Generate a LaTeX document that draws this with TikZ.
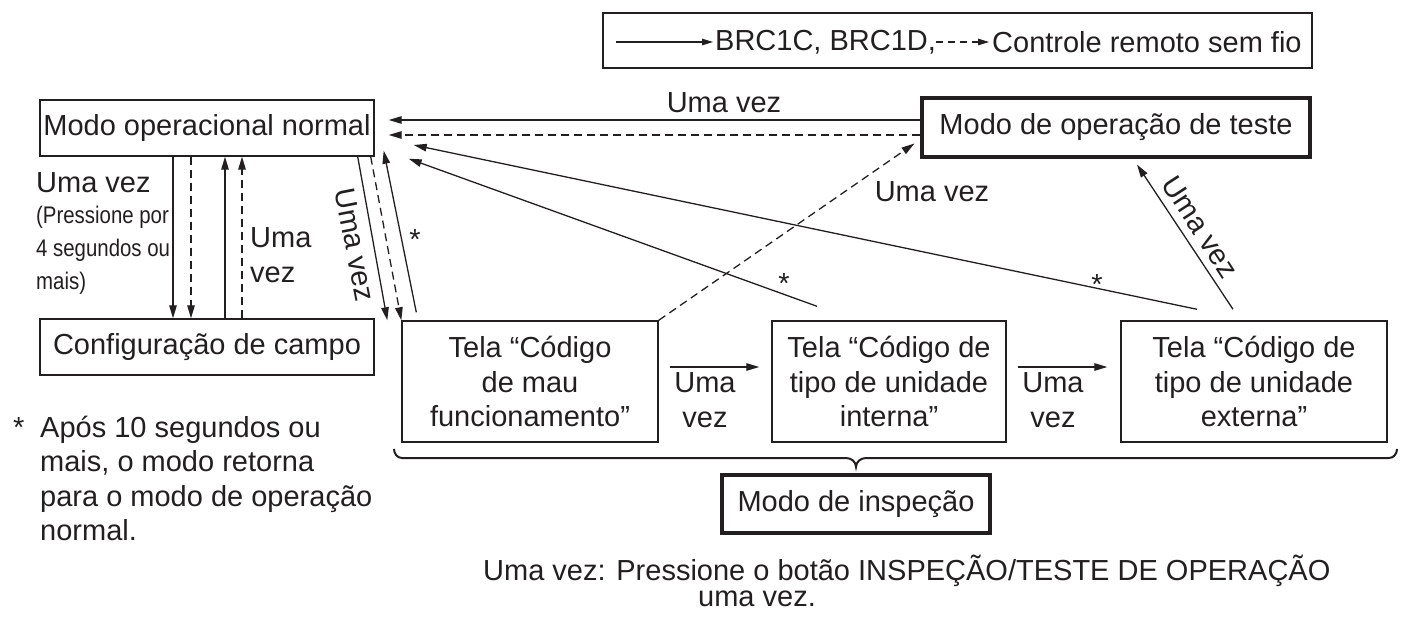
\documentclass[tikz,border=0pt]{standalone}
\usepackage{fontspec}
\setmainfont{Liberation Sans}
\newfontfamily\narrowfont[FakeStretch=0.85]{Liberation Sans}
\usepackage{tikz}
\usetikzlibrary{positioning, arrows.meta}
\definecolor{ink}{RGB}{35,31,32}

\begin{document}
\begin{tikzpicture}[x=1pt,y=-1pt,
  every node/.style={text=ink, font=\fontsize{29}{34.5}\selectfont},
  modebox/.style={draw=ink, line width=1.4pt, minimum width=334pt, minimum height=56pt, inner sep=0pt},
  boldbox/.style={draw=ink, line width=3.2pt, inner sep=0pt},
  screen/.style={draw=ink, line width=1.4pt, minimum height=121pt, align=center, inner sep=0pt},
  lbl/.style={inner sep=0pt, align=left},
  arr/.style={-{Triangle[length=13pt,width=7.5pt]}, line width=1.3pt, draw=ink},
  darr/.style={arr, dash pattern=on 8pt off 5pt}]

  \useasboundingbox (0,0) rectangle (1402,618);

  %% Legend
  \node[draw=ink, line width=1.4pt, minimum width=709pt, minimum height=55pt] (legend) at (957.5,40.5) {};
  \coordinate (lsolid) at (616,42);
  \node[lbl, anchor=west] (brc) at (715,42) {BRC1C, BRC1D,};
  \node[lbl, anchor=west] (wireless) at (992,42) {Controle remoto sem fio};
  \draw[arr, -{Triangle[length=11pt,width=6.5pt]}] (lsolid) -- ([xshift=-2pt]brc.west);
  \draw[darr, dash pattern=on 7pt off 5pt, -{Triangle[length=11pt,width=6.5pt]}] (brc.east) -- ([xshift=-3pt]wireless.west);

  %% Modes
  \node[modebox] (normal) at (207,128) {Modo operacional normal};
  \node[modebox] (campo) at (207,347) {Configuração de campo};
  \node[boldbox, minimum width=388pt, minimum height=59pt] (teste) at (1116,127.5) {Modo de operação de teste};

  %% Screens
  \node[screen, minimum width=256pt] (mau) at (530,381.5) {Tela “Código\\de mau\\funcionamento”};
  \node[screen, minimum width=234pt] (interna) at (889,381.5) {Tela “Código de\\tipo de unidade\\interna”};
  \node[screen, minimum width=266pt] (externa) at (1254,381.5) {Tela “Código de\\tipo de unidade\\externa”};
  \node[boldbox, minimum width=268pt, minimum height=58pt] (inspecao) at (856,504) {Modo de inspeção};

  %% Brace
  \draw[ink, line width=2pt] (394,449) to[out=-90,in=180] (402,458) -- (846,458)
    to[out=0,in=90] (inspecao.north |- 0,467) to[out=90,in=180] (866,458) -- (1389,458)
    to[out=0,in=-90] (1397,449);

  %% Normal <-> campo
  \draw[arr] ([xshift=-34pt]normal.south) -- ([xshift=-34pt]campo.north);
  \draw[darr] ([xshift=-16pt]normal.south) -- ([xshift=-16pt]campo.north);
  \draw[arr] ([xshift=18pt]campo.north) -- ([xshift=18pt]normal.south);
  \draw[darr] ([xshift=35pt]campo.north) -- ([xshift=35pt]normal.south);
  \node[lbl, anchor=west] (l1) at (36,183) {Uma vez};
  \node[lbl, anchor=west, font=\narrowfont\fontsize{24}{33}\selectfont] (l2) at (36,250) {(Pressione por\\4 segundos ou\\mais)};
  \node[lbl, anchor=west] (l3) at (250,255) {Uma\\vez};

  %% Normal <-> mau
  \draw[arr] ([xshift=-17pt]normal.south east) -- ([xshift=-14pt]mau.north west);
  \draw[darr] ([xshift=-4pt]normal.south east) -- (mau.north west);
  \draw[arr] ([xshift=15pt,yshift=8pt]mau.north west) -- ([xshift=9pt,yshift=6pt]normal.south east);
  \node[lbl, rotate=-79] (l4) at (355,245) {Uma vez};
  \node[lbl] (s1) at (415,240) {*};

  %% Teste -> normal
  \draw[arr] ([yshift=7.5pt]teste.west) -- ([xshift=14pt,yshift=8pt]normal.east);
  \draw[darr] ([yshift=-7.5pt]teste.west) -- ([xshift=14pt,yshift=-7pt]normal.east);
  \node[lbl] (l5) at (724,103) {Uma vez};

  %% Screens -> normal
  \draw[arr] ([xshift=-72pt,yshift=14pt]interna.north) -- ([xshift=34pt,yshift=-2pt]normal.south east);
  \draw[arr] ([xshift=-57pt,yshift=11pt]externa.north) -- ([xshift=39pt,yshift=-17pt]normal.east);
  \node[lbl] (s2) at (784,284) {*};
  \node[lbl] (s3) at (1097,285) {*};

  %% Screens -> teste
  \draw[darr] (mau.north east) -- ([xshift=-6pt,yshift=-16pt]teste.west);
  \node[lbl] (l6) at (932,192) {Uma vez};
  \draw[arr] ([xshift=-21pt,yshift=11pt]externa.north) -- ([xshift=21pt,yshift=-6pt]teste.south);
  \node[lbl, rotate=-57] (l7) at (1200,227) {Uma vez};

  %% Screen sequence
  \draw[arr] ([xshift=11pt,yshift=14.5pt]mau.east) -- ([xshift=-12pt,yshift=14.5pt]interna.west);
  \node[lbl, align=center] (l8) at (705,400) {Uma\\vez};
  \draw[arr] ([xshift=11pt,yshift=14.5pt]interna.east) -- ([xshift=-13pt,yshift=14.5pt]externa.west);
  \node[lbl, align=center] (l9) at (1053,400) {Uma\\vez};

  %% Notes
  \node[lbl, anchor=base west] (s4) at (13,437) {*};
  \node[lbl, anchor=west] (note1) at (40,478.5) {Após 10 segundos ou\\mais, o modo retorna\\para o modo de operação\\normal.};
  \node[lbl, anchor=base west] (note2) at (483,580) {Uma vez: Pressione o botão INSPEÇÃO/TESTE DE OPERAÇÃO};
  \node[lbl, anchor=base west] (note3) at (698,606) {uma vez.};
\end{tikzpicture}
\end{document}
